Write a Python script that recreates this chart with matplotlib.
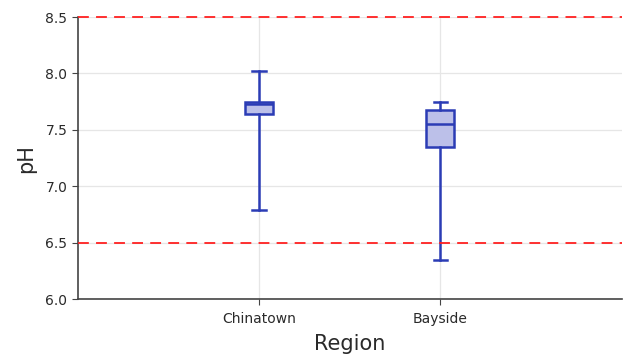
import matplotlib
matplotlib.use("Agg")
import matplotlib.pyplot as plt

# box statistics
regions = ["Chinatown", "Bayside"]
whisker_low = [6.79, 6.35]
q1 = [7.64, 7.35]
median = [7.73, 7.55]
q3 = [7.75, 7.68]
whisker_high = [8.02, 7.75]

limit_lines = [6.5, 8.5]
y_ticks = [6.0, 6.5, 7.0, 7.5, 8.0, 8.5]

edge = "#2b3cb5"
fill = "#bcc0e9"
text_col = "#2a2a2a"

fig = plt.figure(figsize=(6.28, 3.56), dpi=100)
ax = fig.add_axes([0.124, 0.160, 0.866, 0.792])

stats = [
    {"label": r, "whislo": lo, "q1": a, "med": m, "q3": b, "whishi": hi, "fliers": []}
    for r, lo, a, m, b, hi in zip(regions, whisker_low, q1, median, q3, whisker_high)
]
ax.bxp(
    stats,
    positions=range(len(regions)),
    widths=0.155,
    patch_artist=True,
    showfliers=False,
    boxprops=dict(facecolor=fill, edgecolor=edge, linewidth=1.8),
    medianprops=dict(color=edge, linewidth=1.8),
    whiskerprops=dict(color=edge, linewidth=1.8),
    capprops=dict(color=edge, linewidth=1.8),
    capwidths=0.075,
    zorder=3,
)

for y in limit_lines:
    ax.axhline(y, color="#ff2020", linestyle=(0, (6, 4)), linewidth=1.3,
               zorder=4, clip_on=False)

ax.set_xlim(-1, 2)
ax.set_ylim(6.0, 8.5)
ax.set_yticks(y_ticks)
ax.set_yticklabels([f"{v:.1f}" for v in y_ticks])
ax.set_xticks(range(len(regions)))
ax.set_xticklabels(regions)

ax.grid(True, color="#e6e6e6", linewidth=0.9, zorder=0)
ax.set_axisbelow(True)
for side in ("top", "right"):
    ax.spines[side].set_visible(False)
for side in ("left", "bottom"):
    ax.spines[side].set_color("#444444")
    ax.spines[side].set_linewidth(1.2)

ax.tick_params(axis="both", colors="#444444", labelcolor=text_col, labelsize=10, length=4)
ax.tick_params(axis="x", pad=5)
ax.set_xlabel("Region", fontsize=15, color=text_col, labelpad=6)
ax.set_ylabel("pH", fontsize=15, color=text_col, labelpad=7)

fig.savefig("out.png", dpi=100)
